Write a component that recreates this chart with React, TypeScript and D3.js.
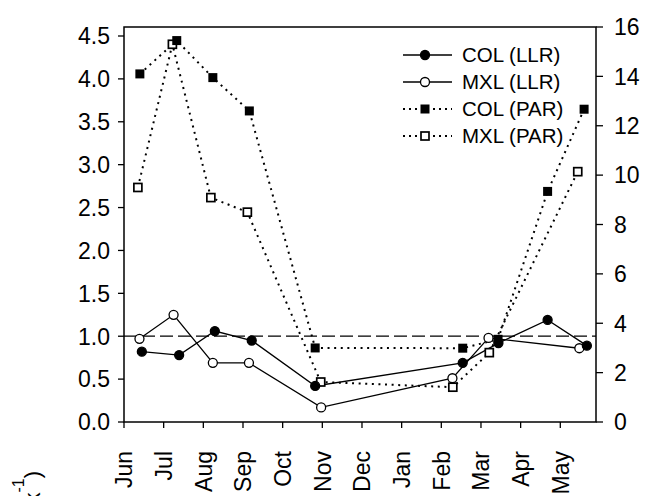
import React from 'react';
import * as d3 from 'd3';

// month index 0 = start of June
const months = ['Jun', 'Jul', 'Aug', 'Sep', 'Oct', 'Nov', 'Dec', 'Jan', 'Feb', 'Mar', 'Apr', 'May'];
const leftTicks = [0, 0.5, 1, 1.5, 2, 2.5, 3, 3.5, 4, 4.5];
const rightTicks = [0, 2, 4, 6, 8, 10, 12, 14, 16];

const colLlrMonth = [0.45, 1.39, 2.29, 3.22, 4.82, 8.54, 9.44, 10.68, 11.67];
const colLlr = [0.82, 0.78, 1.06, 0.95, 0.42, 0.69, 0.92, 1.19, 0.89];
const mxlLlrMonth = [0.39, 1.25, 2.24, 3.15, 4.97, 8.28, 9.19, 11.48];
const mxlLlr = [0.97, 1.25, 0.69, 0.69, 0.17, 0.51, 0.98, 0.86];
const colParMonth = [0.40, 1.33, 2.24, 3.16, 4.82, 8.54, 9.43, 10.68, 11.60];
const colPar = [14.1, 15.45, 13.95, 12.6, 3.0, 2.99, 3.35, 9.34, 12.67];
const mxlParMonth = [0.35, 1.22, 2.19, 3.11, 4.96, 8.29, 9.21, 11.44];
const mxlPar = [9.5, 15.3, 9.09, 8.5, 1.62, 1.41, 2.81, 10.14];

const legendItems = [
  { label: 'COL (LLR)', dotted: false, shape: 'circle', filled: true },
  { label: 'MXL (LLR)', dotted: false, shape: 'circle', filled: false },
  { label: 'COL (PAR)', dotted: true, shape: 'square', filled: true },
  { label: 'MXL (PAR)', dotted: true, shape: 'square', filled: false },
];

const W = 650;
const H = 496;
const font = '"Liberation Sans", Arial, Helvetica, sans-serif';

const x = d3.scaleLinear().domain([0, 11.9]).range([124, 596]);
const yL = d3.scaleLinear().domain([0, 4.5]).range([422, 36]);
const yR = d3.scaleLinear().domain([0, 16]).range([422, 27]);

const zip = (xs: number[], ys: number[]) => xs.map((m, i) => [m, ys[i]] as [number, number]);

const Marker = ({ cx, cy, shape, filled }: { cx: number; cy: number; shape: string; filled: boolean }) => {
  if (shape === 'circle') {
    return <circle cx={cx} cy={cy} r={4.5} fill={filled ? '#000' : '#fff'} stroke="#000" strokeWidth={1.3} />;
  }
  const s = filled ? 9 : 8;
  return (
    <rect x={cx - s / 2} y={cy - s / 2} width={s} height={s}
      fill={filled ? '#000' : '#fff'} stroke="#000" strokeWidth={filled ? 0 : 1.7} />
  );
};

export default function App() {
  const lineL = d3.line<[number, number]>().x(d => x(d[0])).y(d => yL(d[1]));
  const lineR = d3.line<[number, number]>().x(d => x(d[0])).y(d => yR(d[1]));

  const series = [
    { pts: zip(mxlParMonth, mxlPar), line: lineR, y: yR, dotted: true, shape: 'square', filled: false },
    { pts: zip(colParMonth, colPar), line: lineR, y: yR, dotted: true, shape: 'square', filled: true },
    { pts: zip(mxlLlrMonth, mxlLlr), line: lineL, y: yL, dotted: false, shape: 'circle', filled: false },
    { pts: zip(colLlrMonth, colLlr), line: lineL, y: yL, dotted: false, shape: 'circle', filled: true },
  ];

  const [x0, x1] = x.range();
  const top = yR(16);
  const bottom = yL(0);

  return (
    <svg width={W} height={H} style={{ position: 'absolute', left: 0, top: 0, background: '#fff' }}
      fontFamily={font}>
      {/* reference line */}
      <line x1={x0} x2={x1} y1={yL(1)} y2={yL(1)} stroke="#000" strokeWidth={1.2} strokeDasharray="13 5" />

      {series.map((s, i) => (
        <path key={'l' + i} d={s.line(s.pts) || ''} fill="none" stroke="#000"
          strokeWidth={s.dotted ? 2 : 1.3} strokeDasharray={s.dotted ? '2 4.6' : undefined} />
      ))}
      {series.map((s, i) => (
        <g key={'m' + i}>
          {s.pts.map((p, j) => (
            <Marker key={j} cx={x(p[0])} cy={s.y(p[1])} shape={s.shape} filled={s.filled} />
          ))}
        </g>
      ))}

      {/* frame */}
      <rect x={x0} y={top} width={x1 - x0} height={bottom - top} fill="none" stroke="#000" strokeWidth={1.5} />

      {/* left axis */}
      {leftTicks.map(t => (
        <g key={'lt' + t}>
          <line x1={x0 - 6} x2={x0} y1={yL(t)} y2={yL(t)} stroke="#000" strokeWidth={1.3} />
          <text x={110} y={yL(t)} dy="0.36em" textAnchor="end" fontSize={23}>{t.toFixed(1)}</text>
        </g>
      ))}

      {/* right axis */}
      {rightTicks.map(t => (
        <g key={'rt' + t}>
          <line x1={x1} x2={x1 + 7} y1={yR(t)} y2={yR(t)} stroke="#000" strokeWidth={1.3} />
          <text x={614} y={yR(t)} dy="0.36em" textAnchor="start" fontSize={23}>{t}</text>
        </g>
      ))}

      {/* bottom axis */}
      {months.map((m, i) => (
        <g key={m}>
          <line x1={x(i)} x2={x(i)} y1={bottom} y2={bottom + 6} stroke="#000" strokeWidth={1.3} />
          <text transform={`translate(${x(i)},451) rotate(-90)`} dy="0.36em" textAnchor="end" fontSize={23}>{m}</text>
        </g>
      ))}

      {/* y title, mostly cut off at the bottom edge as in the source */}
      <text transform="translate(40,471) rotate(-90)" textAnchor="end" fontSize={22}>
        LLR (cm wk<tspan dy={-16} fontSize={16}>-1</tspan><tspan dy={16}>)</tspan>
      </text>

      {/* legend */}
      {legendItems.map((it, i) => {
        const ly = 55 + i * 27;
        return (
          <g key={it.label}>
            <line x1={403} x2={452} y1={ly} y2={ly} stroke="#000"
              strokeWidth={it.dotted ? 2 : 1.3} strokeDasharray={it.dotted ? '2 4' : undefined} />
            <Marker cx={425} cy={ly} shape={it.shape} filled={it.filled} />
            <text x={462} y={ly} dy="0.36em" fontSize={20.5}>{it.label}</text>
          </g>
        );
      })}
    </svg>
  );
}
